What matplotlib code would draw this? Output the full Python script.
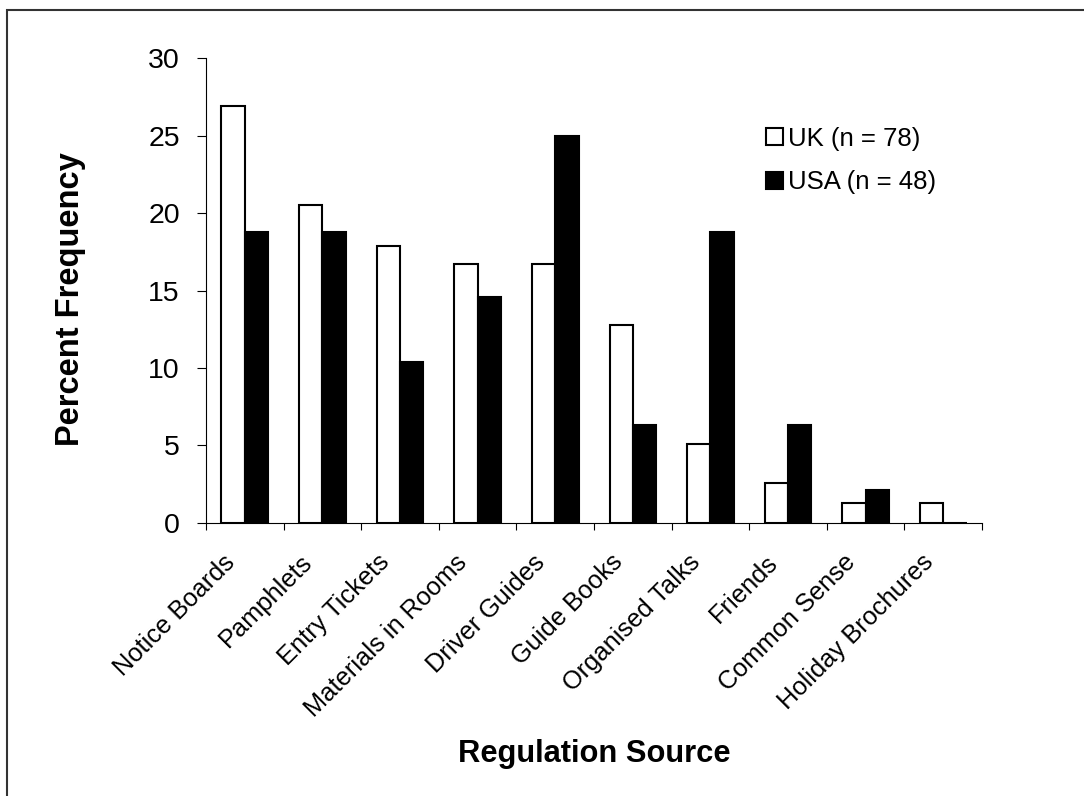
import numpy as np
import matplotlib
matplotlib.use("Agg")
from matplotlib import pyplot as plt
from matplotlib.patches import Rectangle
from matplotlib.transforms import ScaledTranslation

plt.rcParams['font.family'] = ['Liberation Sans', 'DejaVu Sans']

sources = ["Notice Boards", "Pamphlets", "Entry Tickets", "Materials in Rooms",
           "Driver Guides", "Guide Books", "Organised Talks", "Friends",
           "Common Sense", "Holiday Brochures"]
uk = [26.9, 20.5, 17.9, 16.7, 16.7, 12.8, 5.1, 2.6, 1.3, 1.3]
usa = [18.8, 18.8, 10.4, 14.6, 25.0, 6.3, 18.8, 6.3, 2.1, 0.0]
series_labels = ["UK (n = 78)", "USA (n = 48)"]
yticks = [0, 5, 10, 15, 20, 25, 30]


def main():
    fig = plt.figure(figsize=(10.84, 7.96), dpi=100)
    ax = fig.add_axes([0.19, 0.343, 0.716, 0.584])

    x = np.arange(len(sources))
    w = 0.3
    ax.bar(x - w / 2, uk, w, color='white', edgecolor='black', linewidth=1.5,
           label=series_labels[0])
    ax.bar(x + w / 2, usa, w, color='black', edgecolor='black', linewidth=1.5,
           label=series_labels[1])

    ax.set_xlim(-0.5, len(sources) - 0.5)
    ax.set_ylim(0, 30)
    ax.set_yticks(yticks)
    ax.tick_params(axis='y', labelsize=20.5, length=6.3, width=0.8, pad=12.5)

    # boundaries get the tick marks, centres get the labels
    ax.set_xticks(np.arange(len(sources) + 1) - 0.5)
    ax.set_xticklabels([])
    ax.tick_params(axis='x', which='major', length=5, width=0.8)
    ax.set_xticks(x, minor=True)
    ax.set_xticklabels(sources, minor=True, rotation=45, ha='right',
                       va='center', rotation_mode='anchor', fontsize=18.3)
    ax.tick_params(axis='x', which='minor', length=0, pad=22)
    shift = ScaledTranslation(-14 / 100, -5 / 100, fig.dpi_scale_trans)
    for lab in ax.get_xticklabels(minor=True):
        lab.set_transform(lab.get_transform() + shift)

    for s in ['top', 'right']:
        ax.spines[s].set_visible(False)
    for s in ['left', 'bottom']:
        ax.spines[s].set_linewidth(0.8)

    ax.set_ylabel("Percent Frequency", fontsize=23.5, fontweight='bold', va='center')
    ax.yaxis.set_label_coords(-0.175, 0.481)
    ax.set_xlabel("Regulation Source", fontsize=22.2, fontweight='bold', va='center')
    ax.xaxis.set_label_coords(0.5, -0.498)

    ax.legend(loc='upper left', bbox_to_anchor=(0.722, 0.852), frameon=False,
              fontsize=18.5, handlelength=0.65, handleheight=0.65, handletextpad=0.2,
              labelspacing=0.75, borderpad=0, borderaxespad=0)

    border = Rectangle((7 / 1084, -0.1), 1.1, 0.1 + 1 - 10 / 796,
                       transform=fig.transFigure, fill=False,
                       edgecolor='#333333', linewidth=1.5, clip_on=False)
    fig.patches.append(border)

    fig.savefig("out.png", dpi=100)


if __name__ == "__main__":
    main()
